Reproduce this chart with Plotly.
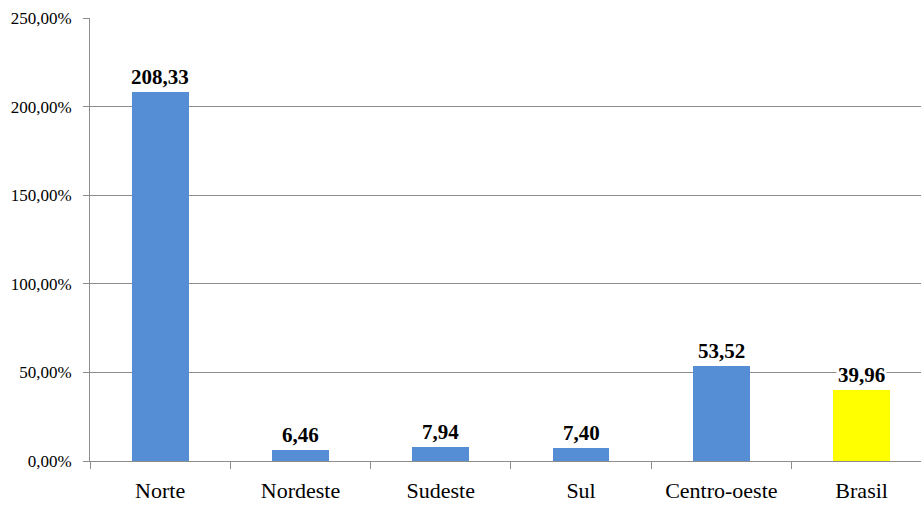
import plotly.graph_objects as go

# Regional growth (%) by region of Brazil
regions = ["Norte", "Nordeste", "Sudeste", "Sul", "Centro-oeste", "Brasil"]
values = [208.33, 6.46, 7.94, 7.40, 53.52, 39.96]
colors = ["#558ED5", "#558ED5", "#558ED5", "#558ED5", "#558ED5", "#FFFF00"]

y_ticks = [0, 50, 100, 150, 200, 250]
y_tick_text = ["0,00%", "50,00%", "100,00%", "150,00%", "200,00%", "250,00%"]

serif = "Liberation Serif"
grid = "#8C8C8C"

xpos = list(range(len(regions)))

fig = go.Figure()
fig.add_trace(go.Bar(
    x=xpos,
    y=values,
    marker=dict(color=colors, line=dict(width=0)),
    width=0.405,
    hoverinfo="skip",
))

# value labels above each bar, on a white box
for xi, v in zip(xpos, values):
    fig.add_annotation(
        x=xi, y=v, xref="x", yref="y",
        text=f"<b>{v:.2f}</b>".replace(".", ","),
        showarrow=False, yanchor="bottom", yshift=1,
        bgcolor="white", borderpad=1,
        font=dict(family=serif, size=21, color="black"),
    )

fig.update_layout(
    width=921, height=506,
    margin=dict(l=90, r=0, t=18, b=45),
    paper_bgcolor="white", plot_bgcolor="white",
    font=dict(family=serif, color="black"),
    showlegend=False,
    bargap=0,
    xaxis=dict(
        range=[-0.5, 5.423],
        automargin=False,
        tickmode="array", tickvals=xpos, ticktext=regions,
        ticks="outside", ticklen=10, tickcolor="rgba(0,0,0,0)",
        tickfont=dict(family=serif, size=22, color="black"),
        showgrid=False, zeroline=False,
        showline=True, linecolor=grid, linewidth=1,
        minor=dict(tick0=0.5, dtick=1, ticks="outside", ticklen=7,
                   tickcolor=grid, tickwidth=1, showgrid=False),
    ),
    yaxis=dict(
        range=[0, 250],
        automargin=False,
        tickmode="array", tickvals=y_ticks, ticktext=y_tick_text,
        ticks="outside", ticklen=6, tickcolor=grid, tickwidth=1,
        ticklabelstandoff=8,
        tickfont=dict(family=serif, size=17, color="black"),
        showgrid=True, gridcolor=grid, gridwidth=1,
        zeroline=False,
        showline=True, linecolor=grid, linewidth=1,
    ),
)

fig.write_html("out.html")
